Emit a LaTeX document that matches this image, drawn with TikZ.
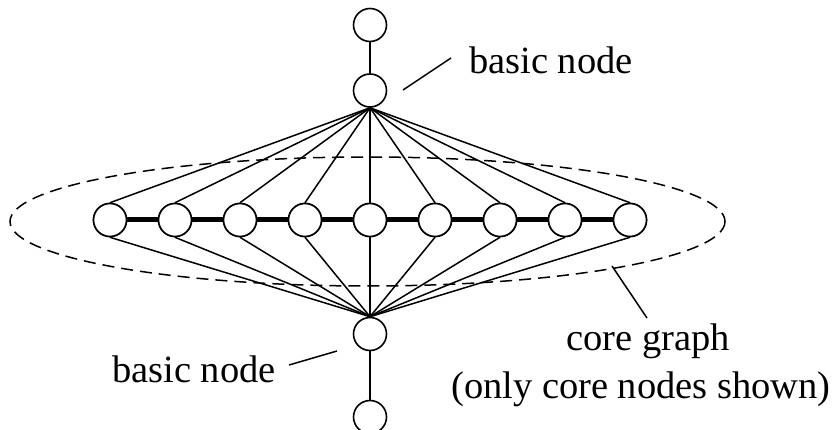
\documentclass[tikz,border=0pt]{standalone}
\usepackage{fontspec}
\setmainfont{Liberation Serif}
\begin{document}
\begin{tikzpicture}[x=1pt,y=-1pt,
  vtx/.style={circle,draw,fill=white,minimum size=33pt,inner sep=0pt,line width=1.6pt},
  edge/.style={line width=1.5pt},
  thick edge/.style={line width=5pt},
  lbl/.style={font=\fontsize{38.5}{44}\selectfont,inner sep=0pt,anchor=base west},
  leader/.style={line width=1.5pt}]
\useasboundingbox (0,0) rectangle (838,430);
\draw[dash pattern=on 12pt off 7pt,line width=1.5pt] (367.5,221.5) ellipse [x radius=357.5, y radius=64.5];
\node[vtx] (t0) at (370,25) {};
\node[vtx] (t1) at (370,90.5) {};
\node[vtx] (b1) at (370,334) {};
\node[vtx] (b0) at (370,417) {};
\foreach \i in {0,...,8} {
  \node[vtx] (c\i) at ({110+65*\i},220) {};
}
\draw[edge] (t0) -- (t1);
\draw[edge] (b1) -- (b0);
\foreach \i in {0,...,8} {
  \draw[edge] (t1.south) -- (c\i.north);
  \draw[edge] (c\i.south) -- (b1.north);
}
\foreach \i/\j in {0/1,1/2,2/3,3/4,4/5,5/6,6/7,7/8} {
  \draw[thick edge] (c\i) -- (c\j);
}
\foreach \i in {0,...,8} { \node[vtx] at (c\i) {}; }
\node[lbl] (lt) at (469,74) {basic node};
\node[lbl] (lb) at (112,382) {basic node};
\node[lbl] (lc1) at (566,350) {core graph};
\node[lbl] (lc2) at (451,398) {(only core nodes shown)};
\coordinate (a1) at (403,90);
\coordinate (a2) at (451,58);
\coordinate (b1a) at (289,365);
\coordinate (b1b) at (337,351);
\coordinate (c1a) at (612,266);
\coordinate (c1b) at (647,318);
\draw[leader] (a1) -- (a2);
\draw[leader] (b1a) -- (b1b);
\draw[leader] (c1a) -- (c1b);
\end{tikzpicture}
\end{document}
